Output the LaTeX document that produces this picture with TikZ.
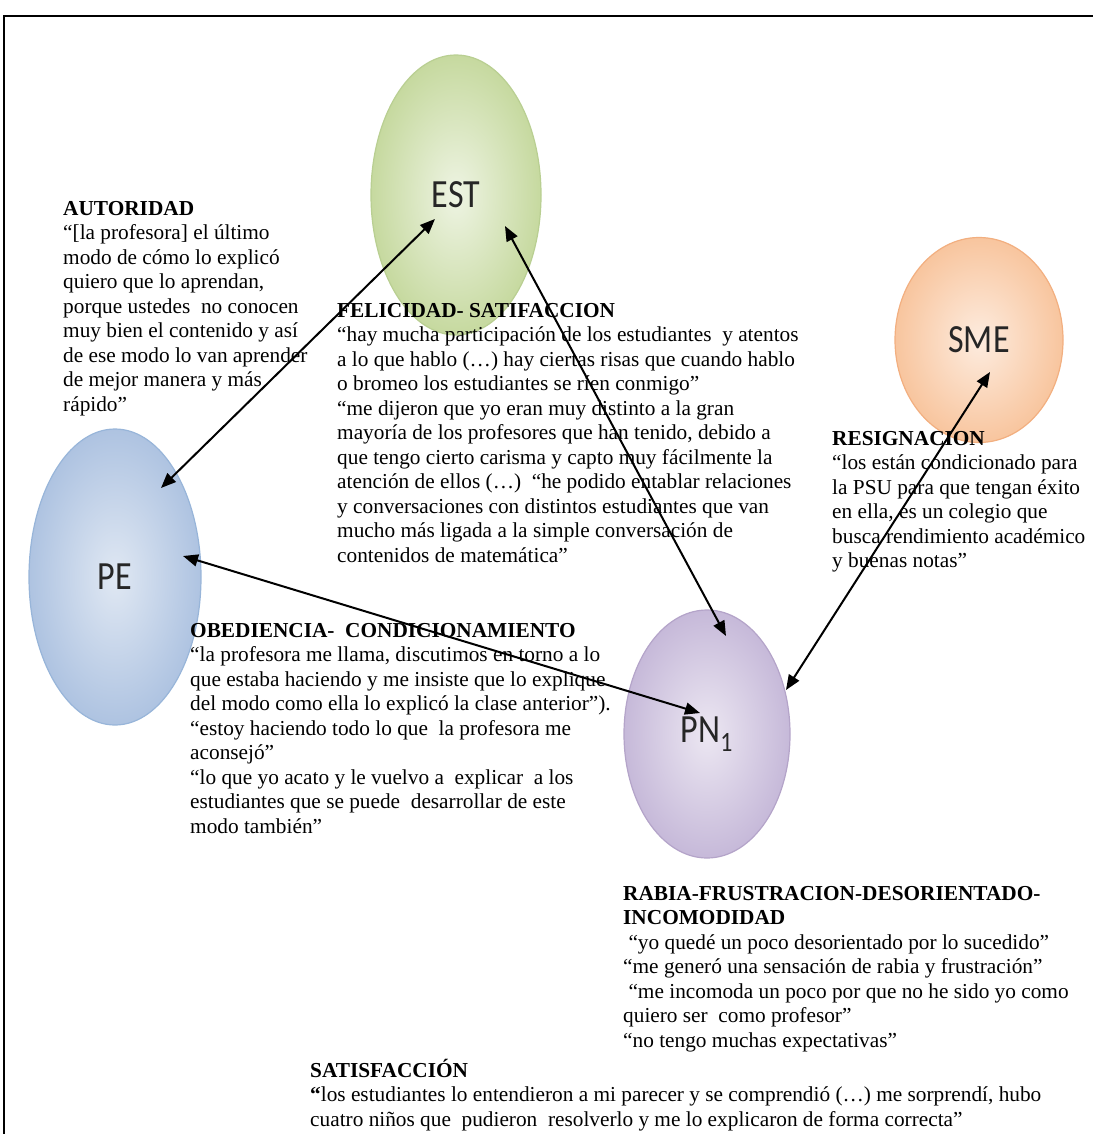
\documentclass[tikz,border=0pt]{standalone}
\usepackage{fontspec}
\setmainfont{Liberation Serif}
\newfontfamily\bubblefont[FakeStretch=0.85]{Carlito}
\usetikzlibrary{shapes.geometric,arrows.meta}
\definecolor{estin}{HTML}{EEF4E3}
\definecolor{estout}{HTML}{C6D99F}
\definecolor{estline}{HTML}{B9CF92}
\definecolor{smein}{HTML}{FDECDF}
\definecolor{smeout}{HTML}{F8C59E}
\definecolor{smeline}{HTML}{F2AF80}
\definecolor{pein}{HTML}{E0E8F3}
\definecolor{peout}{HTML}{AEC3E1}
\definecolor{peline}{HTML}{98B5D9}
\definecolor{pnin}{HTML}{ECE7F2}
\definecolor{pnout}{HTML}{C6B9D9}
\definecolor{pnline}{HTML}{B4A4C9}
\tikzset{
    bubble/.style = {ellipse,
                    shading=radial,
                    line width=1.2pt,
                    text=black!85,
                    font=\bubblefont\fontsize{40}{40}\selectfont,
                    inner sep=0pt},
    quote/.style =  {anchor=north west,
                    align=left,
                    inner sep=0pt,
                    font=\fontsize{21.3}{24.5}\selectfont},
    link/.style =   {<->,
                    line width=2pt,
                    >={Triangle[length=15pt,width=12pt]}},
    frame/.style =  {line width=1.5pt}
}
\newcommand{\hd}[1]{\rule{0pt}{20pt}\textbf{#1}}

\begin{document}
\begin{tikzpicture}[x=1pt,y=-1pt]
    \useasboundingbox (0,0) rectangle (1092,1134);
    \draw [frame] (4,1140) -- (4,16) -- (1100,16);

    % ellipses
    \node[bubble, inner color=estin, outer color=estout, draw=estline,
          minimum width=170, minimum height=280] (EST) at (456,195) {EST};
    \node[bubble, inner color=smein, outer color=smeout, draw=smeline,
          minimum width=168, minimum height=205] (SME) at (979,340) {SME};
    \node[bubble, inner color=pein, outer color=peout, draw=peline,
          minimum width=172, minimum height=296] (PE) at (115,577) {PE};
    \node[bubble, inner color=pnin, outer color=pnout, draw=pnline,
          minimum width=166, minimum height=248] (PN) at (707,734) {PN\textsubscript{1}};

    % texts
    \node[quote] (autoridad) at (63,195) {\hd{AUTORIDAD}\\
        “[la profesora] el último\\
        modo de cómo lo explicó\\
        quiero que lo aprendan,\\
        porque ustedes\ \ no conocen\\
        muy bien el contenido y así\\
        de ese modo lo van aprender\\
        de mejor manera y más\\
        rápido”};
    \node[quote] (felicidad) at (337,297) {\hd{FELICIDAD- SATIFACCION}\\
        “hay mucha participación de los estudiantes\ \ y atentos\\
        a lo que hablo (…) hay ciertas risas que cuando hablo\\
        o bromeo los estudiantes se ríen conmigo”\\
        “me dijeron que yo eran muy distinto a la gran\\
        mayoría de los profesores que han tenido, debido a\\
        que tengo cierto carisma y capto muy fácilmente la\\
        atención de ellos (…)\ \ “he podido entablar relaciones\\
        y conversaciones con distintos estudiantes que van\\
        mucho más ligada a la simple conversación de\\
        contenidos de matemática”};
    \node[quote] (resignacion) at (832,425) {\hd{RESIGNACION}\\
        “los están condicionado para\\
        la PSU para que tengan éxito\\
        en ella, es un colegio que\\
        busca rendimiento académico\\
        y buenas notas”};
    \node[quote] (obediencia) at (190,617) {\hd{OBEDIENCIA-\ \ CONDICIONAMIENTO}\\
        “la profesora me llama, discutimos en torno a lo\\
        que estaba haciendo y me insiste que lo explique\\
        del modo como ella lo explicó la clase anterior”).\\
        “estoy haciendo todo lo que\ \ la profesora me\\
        aconsejó”\\
        “lo que yo acato y le vuelvo a\ \ explicar\ \ a los\\
        estudiantes que se puede\ \ desarrollar de este\\
        modo también”};
    \node[quote] (rabia) at (623,880) {\hd{RABIA-FRUSTRACION-DESORIENTADO-}\\
        \textbf{INCOMODIDAD}\\
        \ “yo quedé un poco desorientado por lo sucedido”\\
        “me generó una sensación de rabia y frustración”\\
        \ “me incomoda un poco por que no he sido yo como\\
        quiero ser\ \ como profesor”\\
        “no tengo muchas expectativas”};
    \node[quote] (satisfaccion) at (310,1057) {\hd{SATISFACCIÓN}\\
        \textbf{“}los estudiantes lo entendieron a mi parecer y se comprendió (…) me sorprendí, hubo\\
        cuatro niños que\ \ pudieron\ \ resolverlo y me lo explicaron de forma correcta”};

    % arrow ends
    \coordinate (PE-a)  at (161,488);
    \coordinate (PE-b)  at (183,556);
    \coordinate (EST-a) at (435,219);
    \coordinate (EST-b) at (505,226);
    \coordinate (PN-a)  at (726,636);
    \coordinate (PN-b)  at (700,713);
    \coordinate (PN-c)  at (786,690);
    \coordinate (SME-a) at (990,372);

    \path [link]    (PE-a)  edge [] (EST-a)
                    (EST-b) edge [] (PN-a)
                    (PE-b)  edge [] (PN-b)
                    (PN-c)  edge [] (SME-a);
\end{tikzpicture}
\end{document}
